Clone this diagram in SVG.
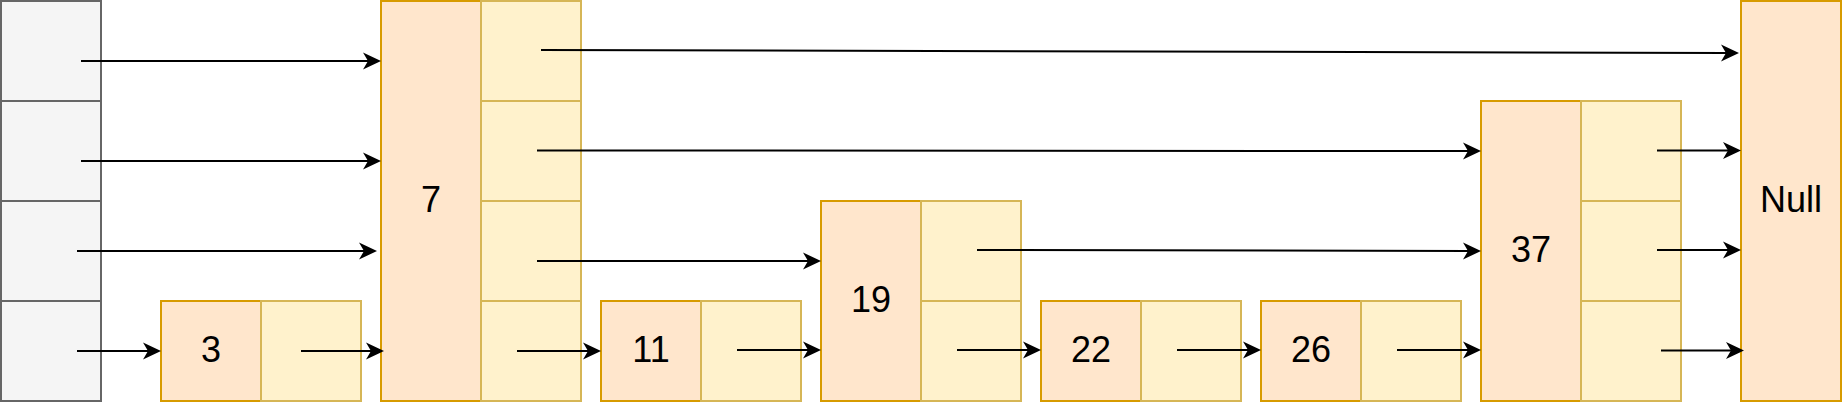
<svg xmlns="http://www.w3.org/2000/svg" width="1842" height="404" viewBox="0 0 1842 404">
<style>
.head{fill:#f5f5f5;stroke:#666666;stroke-width:2}
.data{fill:#ffe6cc;stroke:#d79b00;stroke-width:2}
.ptr{fill:#fff2cc;stroke:#d6b656;stroke-width:2}
.lbl{font-family:"Liberation Sans",Arial,sans-serif;font-size:36px;fill:#000000;text-anchor:middle}
.conn{fill:none;stroke:#000000;stroke-width:2;marker-end:url(#arr)}
</style>
<defs>
<marker id="arr" viewBox="0 0 18 18" refX="5" refY="9" markerWidth="18" markerHeight="18" markerUnits="userSpaceOnUse" orient="auto">
<path d="M0,0.5 L18,9 L0,17.5 L5,9 Z" fill="#000000"/>
</marker>
</defs>
<rect width="1842" height="404" fill="#ffffff"/>
<g id="head">
<rect class="head" x="1" y="1" width="100" height="100"/>
<rect class="head" x="1" y="101" width="100" height="100"/>
<rect class="head" x="1" y="201" width="100" height="100"/>
<rect class="head" x="1" y="301" width="100" height="100"/>
</g>
<g id="node3">
<rect class="data" x="161" y="301" width="100" height="100"/>
<rect class="ptr" x="261" y="301" width="100" height="100"/>
<text class="lbl" x="211" y="362">3</text>
</g>
<g id="node7">
<rect class="data" x="381" y="1" width="100" height="400"/>
<rect class="ptr" x="481" y="1" width="100" height="100"/>
<rect class="ptr" x="481" y="101" width="100" height="100"/>
<rect class="ptr" x="481" y="201" width="100" height="100"/>
<rect class="ptr" x="481" y="301" width="100" height="100"/>
<text class="lbl" x="431" y="212">7</text>
</g>
<g id="node11">
<rect class="data" x="601" y="301" width="100" height="100"/>
<rect class="ptr" x="701" y="301" width="100" height="100"/>
<text class="lbl" x="651" y="362">11</text>
</g>
<g id="node19">
<rect class="data" x="821" y="201" width="100" height="200"/>
<rect class="ptr" x="921" y="201" width="100" height="100"/>
<rect class="ptr" x="921" y="301" width="100" height="100"/>
<text class="lbl" x="871" y="312">19</text>
</g>
<g id="node22">
<rect class="data" x="1041" y="301" width="100" height="100"/>
<rect class="ptr" x="1141" y="301" width="100" height="100"/>
<text class="lbl" x="1091" y="362">22</text>
</g>
<g id="node26">
<rect class="data" x="1261" y="301" width="100" height="100"/>
<rect class="ptr" x="1361" y="301" width="100" height="100"/>
<text class="lbl" x="1311" y="362">26</text>
</g>
<g id="node37">
<rect class="data" x="1481" y="101" width="100" height="300"/>
<rect class="ptr" x="1581" y="101" width="100" height="100"/>
<rect class="ptr" x="1581" y="201" width="100" height="100"/>
<rect class="ptr" x="1581" y="301" width="100" height="100"/>
<text class="lbl" x="1531" y="262">37</text>
</g>
<g id="null">
<rect class="data" x="1741" y="1" width="100" height="400"/>
<text class="lbl" x="1791" y="212">Null</text>
</g>
<g id="connectors">
<path class="conn" d="M81,61 L368,61"/>
<path class="conn" d="M81,161 L368,161"/>
<path class="conn" d="M77,251 L364,251"/>
<path class="conn" d="M77,351 L148,351"/>
<path class="conn" d="M301,351 L371,351"/>
<path class="conn" d="M541,50 L1726,53"/>
<path class="conn" d="M537,150.5 L1468,151"/>
<path class="conn" d="M537,261 L808,261"/>
<path class="conn" d="M517,351 L588,351"/>
<path class="conn" d="M737,350 L808,350"/>
<path class="conn" d="M977,250 L1468,251"/>
<path class="conn" d="M957,350 L1028,350"/>
<path class="conn" d="M1177,350 L1248,350"/>
<path class="conn" d="M1397,350 L1468,350"/>
<path class="conn" d="M1657,150.5 L1728,150.5"/>
<path class="conn" d="M1657,250 L1728,250"/>
<path class="conn" d="M1661,350.5 L1731,350.5"/>
</g>
</svg>
